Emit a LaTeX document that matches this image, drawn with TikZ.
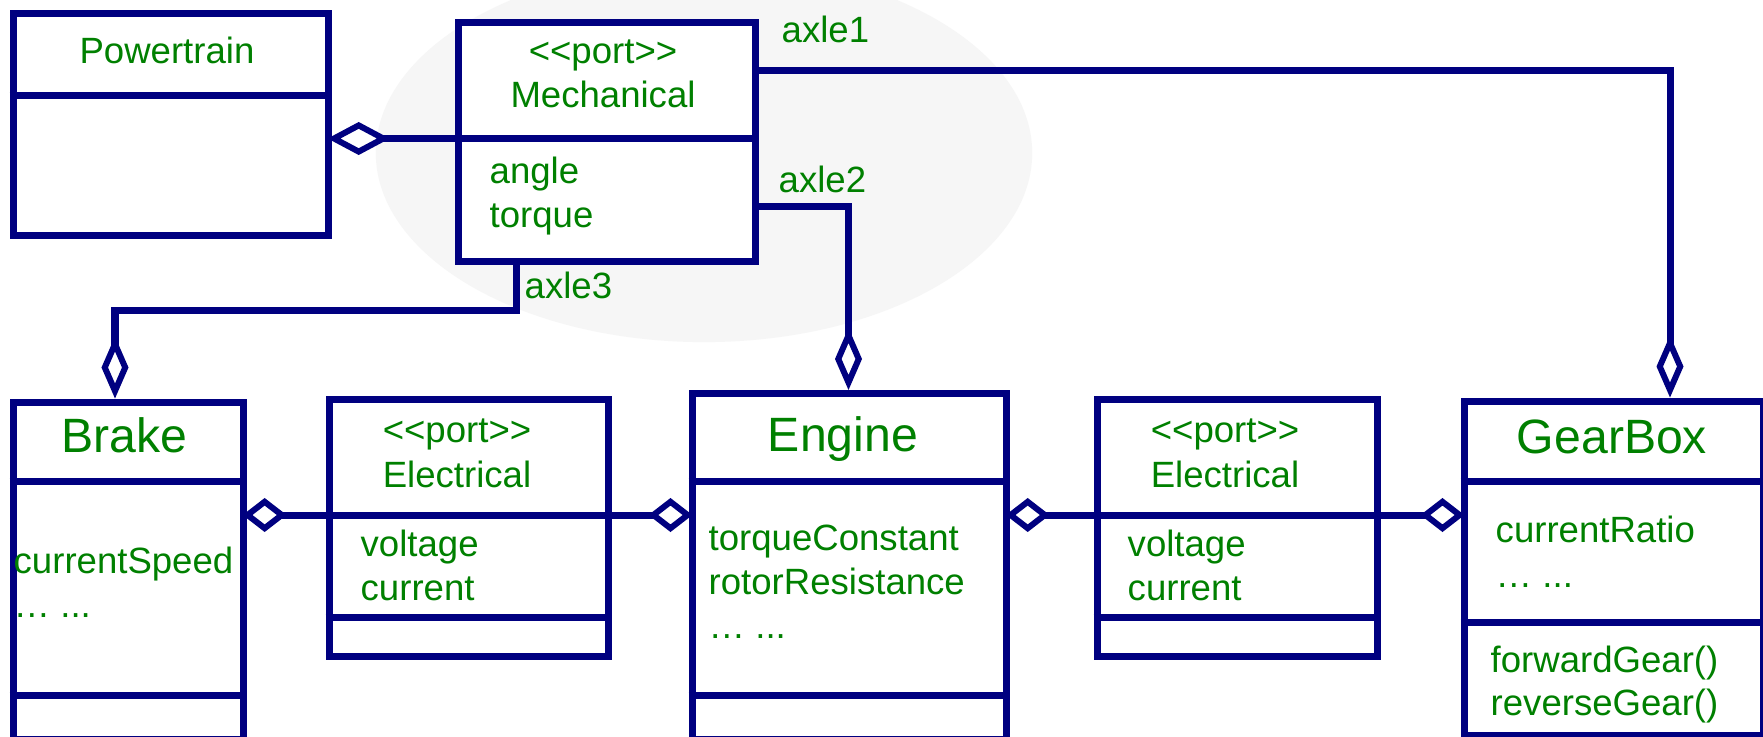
\documentclass[tikz,border=0pt]{standalone}
\usepackage{fontspec}
\setmainfont{Liberation Sans}
\usepackage{tikz}
\usetikzlibrary{arrows.meta,positioning,calc}

\definecolor{umlnavy}{RGB}{0,0,128}
\definecolor{umlgreen}{RGB}{0,128,0}
\definecolor{markgray}{RGB}{246,246,246}

\begin{document}
\begin{tikzpicture}[
    x=0.01cm, y=-0.01cm,
    classbox/.style={rectangle, draw=umlnavy, fill=white, line width=0.07cm, inner sep=0pt, anchor=north west},
    divider/.style={draw=umlnavy, line width=0.07cm},
    classname/.style={text=umlgreen, inner sep=0pt, anchor=base, font=\fontsize{13.7}{16}\selectfont},
    stereo/.style={text=umlgreen, inner sep=0pt, anchor=base, font=\fontsize{10.4}{12.5}\selectfont},
    member/.style={text=umlgreen, inner sep=0pt, anchor=base west, font=\fontsize{10.4}{12.5}\selectfont},
    line/.style={draw=umlnavy, line width=0.07cm},
    agg/.style={line, shorten >=-0.04cm, -{Diamond[open, length=0.44cm, width=0.34cm, line width=0.06cm]}},
    aggwide/.style={line, shorten >=-0.04cm, -{Diamond[open, length=0.62cm, width=0.33cm, line width=0.06cm]}},
    aggdown/.style={line, -{Diamond[open, length=0.62cm, width=0.27cm, line width=0.06cm]}}
]
    \useasboundingbox (0,0) rectangle (1763,736);
    \fill [white] (0,0) rectangle (1763,736);
    % faint backdrop
    \fill [markgray] (704,153) ellipse [x radius=3.28cm, y radius=1.89cm];

    % Classes
    \node [classbox, minimum width=3.15cm, minimum height=2.22cm] (powertrain) at (9.5,9.5) {};
    \node [classbox, minimum width=2.965cm, minimum height=2.395cm] (mechanical) at (455,18.5) {};
    \node [classbox, minimum width=2.30cm, minimum height=3.375cm] (brake) at (9.5,398.5) {};
    \node [classbox, minimum width=2.795cm, minimum height=2.57cm] (elecA) at (325.5,395.5) {};
    \node [classbox, minimum width=3.14cm, minimum height=3.46cm] (engine) at (688.5,390) {};
    \node [classbox, minimum width=2.80cm, minimum height=2.57cm] (elecB) at (1093.5,395.5) {};
    \node [classbox, minimum width=2.995cm, minimum height=3.34cm] (gearbox) at (1460.5,397.5) {};

    % Compartment levels
    \coordinate (power-div) at (0,95);
    \coordinate (mech-div) at (0,138.5);
    \coordinate (title-div) at (0,481.5);
    \coordinate (bus) at (0,515);
    \coordinate (port-div) at (0,617.5);
    \coordinate (oper-div) at (0,695.5);
    \coordinate (gear-div) at (0,622);

    \draw [divider] (powertrain.west |- power-div) -- (powertrain.east |- power-div);
    \draw [divider] (mechanical.west |- mech-div) -- (mechanical.east |- mech-div);
    \draw [divider] (brake.west |- title-div) -- (brake.east |- title-div);
    \draw [divider] (brake.west |- oper-div) -- (brake.east |- oper-div);
    \draw [divider] (elecA.west |- bus) -- (elecA.east |- bus);
    \draw [divider] (elecA.west |- port-div) -- (elecA.east |- port-div);
    \draw [divider] (engine.west |- title-div) -- (engine.east |- title-div);
    \draw [divider] (engine.west |- oper-div) -- (engine.east |- oper-div);
    \draw [divider] (elecB.west |- bus) -- (elecB.east |- bus);
    \draw [divider] (elecB.west |- port-div) -- (elecB.east |- port-div);
    \draw [divider] (gearbox.west |- title-div) -- (gearbox.east |- title-div);
    \draw [divider] (gearbox.west |- gear-div) -- (gearbox.east |- gear-div);

    % Texts
    \node [stereo] (powertrain-name) at (167,63) {Powertrain};

    \node [stereo] (mech-stereo) at (603,63) {<{}<port>{}>};
    \node [stereo] (mech-name) at (603,107) {Mechanical};
    \node [member] (mech-angle) at (489,183) {angle};
    \node [member] (mech-torque) at (489,227) {torque};

    \node [classname] (brake-name) at (124.5,452.7) {Brake};
    \node [member] (brake-speed) at (13,573) {currentSpeed};
    \node [member] (brake-more) at (13,617) {… ...};

    \node [stereo] (elecA-stereo) at (457,442) {<{}<port>{}>};
    \node [stereo] (elecA-name) at (457,487) {Electrical};
    \node [member] (elecA-voltage) at (360,556) {voltage};
    \node [member] (elecA-current) at (360,600) {current};

    \node [classname] (engine-name) at (843,451) {Engine};
    \node [member] (engine-torque) at (708,550) {torqueConstant};
    \node [member] (engine-rotor) at (708,594) {rotorResistance};
    \node [member] (engine-more) at (708,638) {… ...};

    \node [stereo] (elecB-stereo) at (1225,442) {<{}<port>{}>};
    \node [stereo] (elecB-name) at (1225,487) {Electrical};
    \node [member] (elecB-voltage) at (1127,556) {voltage};
    \node [member] (elecB-current) at (1127,600) {current};

    \node [classname] (gearbox-name) at (1612,453) {GearBox};
    \node [member] (gearbox-ratio) at (1495,542) {currentRatio};
    \node [member] (gearbox-more) at (1495,587) {… ...};
    \node [member] (gearbox-fwd) at (1490,672) {forwardGear()};
    \node [member] (gearbox-rev) at (1490,715) {reverseGear()};

    % Connections
    \coordinate (axle1-bend) at (1670,70);
    \coordinate (axle2-bend) at (848.5,206);
    \coordinate (axle3-top) at (516.5,310);
    \coordinate (axle3-bend) at (115,310);

    \draw [aggwide] (mechanical.west |- mech-div) -- (powertrain.east |- mech-div);
    \draw [aggdown] (mechanical.east |- axle1-bend) -- (axle1-bend) -- (axle1-bend |- gearbox.north);
    \draw [aggdown] (mechanical.east |- axle2-bend) -- (axle2-bend) -- (axle2-bend |- engine.north);
    \draw [aggdown] (axle3-top |- mechanical.south) -- (axle3-top) -- (axle3-bend) -- (axle3-bend |- brake.north);
    \draw [agg] (elecA.west |- bus) -- (brake.east |- bus);
    \draw [agg] (elecA.east |- bus) -- (engine.west |- bus);
    \draw [agg] (elecB.west |- bus) -- (engine.east |- bus);
    \draw [agg] (elecB.east |- bus) -- (gearbox.west |- bus);

    \node [member] (axle1-label) at (781,42) {axle1};
    \node [member] (axle2-label) at (778,192) {axle2};
    \node [member] (axle3-label) at (524,298) {axle3};

\end{tikzpicture}
\end{document}
